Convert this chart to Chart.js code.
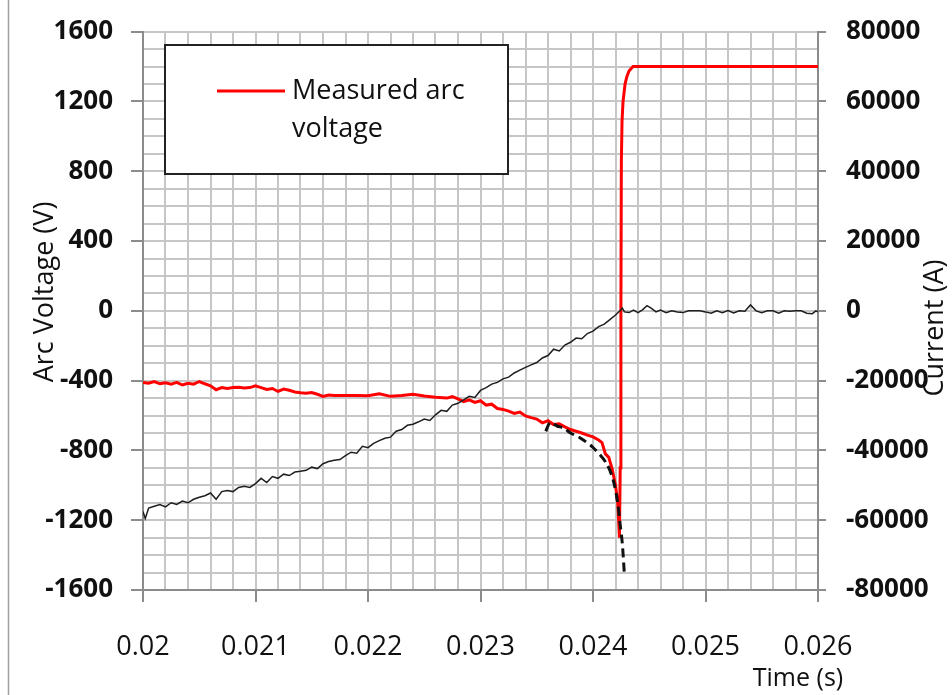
<!DOCTYPE html>
<html>
<head>
<meta charset="utf-8">
<script src="https://cdn.jsdelivr.net/npm/chart.js@4.4.1/dist/chart.umd.min.js"></script>
<style>
  html, body { margin: 0; padding: 0; background: #fff; }
  #wrap { width: 952px; height: 695px; position: relative; }
</style>
</head>
<body>
<div id="wrap"><canvas id="chart" width="952" height="695"></canvas></div>
<script>
// measured arc voltage (V) vs time (s)
const timeVoltage = [
  0.02000, 0.02005, 0.02010, 0.02015, 0.02020, 0.02025, 0.02030, 0.02035, 0.02040, 0.02045,
  0.02050, 0.02055, 0.02060, 0.02065, 0.02070, 0.02075, 0.02080, 0.02085, 0.02090, 0.02095,
  0.02100, 0.02105, 0.02110, 0.02115, 0.02120, 0.02125, 0.02130, 0.02135, 0.02140, 0.02145,
  0.02150, 0.02155, 0.02160, 0.02165, 0.02170, 0.02180, 0.02190, 0.02200, 0.02210, 0.02220,
  0.02230, 0.02240, 0.02250, 0.02260, 0.02270, 0.02275, 0.02280, 0.02285, 0.02290, 0.02295,
  0.02300, 0.02305, 0.02310, 0.02315, 0.02320, 0.02325, 0.02330, 0.02335, 0.02340, 0.02345,
  0.02350, 0.02355, 0.02360, 0.02365, 0.02370, 0.02375, 0.02380, 0.02385, 0.02390, 0.02395,
  0.02400, 0.02405, 0.02408, 0.02411, 0.02414, 0.02417, 0.02420, 0.02422, 0.024235, 0.024242,
  0.024248, 0.024252, 0.024258, 0.024267, 0.024285, 0.02430, 0.02432, 0.024356, 0.02600
];
const arcVoltage = [
  -410, -415, -405, -418, -412, -420, -410, -425, -415, -420,
  -405, -418, -430, -452, -440, -445, -440, -438, -442, -440,
  -430, -440, -450, -445, -462, -448, -455, -465, -470, -472,
  -468, -478, -490, -482, -485, -485, -485, -487, -475, -490,
  -485, -478, -488, -495, -500, -492, -505, -520, -510, -525,
  -515, -540, -535, -560, -565, -575, -588, -580, -602, -612,
  -620, -642, -630, -652, -648, -665, -680, -690, -700, -712,
  -722, -740, -755, -820, -840, -905, -1000, -1100, -1300, -900,
  0, 850, 1086, 1200, 1300, 1340, 1375, 1400, 1400
];

// current (A) vs time (s), right axis
const timeCurrent = [
  0.02000, 0.02002, 0.02005, 0.02010, 0.02015, 0.02020, 0.02025, 0.02030, 0.02035, 0.02040,
  0.02045, 0.02050, 0.02055, 0.02060, 0.02065, 0.02070, 0.02075, 0.02080, 0.02085, 0.02090,
  0.02095, 0.02100, 0.02105, 0.02110, 0.02115, 0.02120, 0.02125, 0.02130, 0.02135, 0.02140,
  0.02145, 0.02150, 0.02155, 0.02160, 0.02165, 0.02170, 0.02175, 0.02180, 0.02185, 0.02190,
  0.02195, 0.02200, 0.02205, 0.02210, 0.02215, 0.02220, 0.02225, 0.02230, 0.02235, 0.02240,
  0.02245, 0.02250, 0.02255, 0.02260, 0.02265, 0.02270, 0.02275, 0.02280, 0.02285, 0.02290,
  0.02295, 0.02300, 0.02305, 0.02310, 0.02315, 0.02320, 0.02325, 0.02330, 0.02335, 0.02340,
  0.02345, 0.02350, 0.02355, 0.02360, 0.02365, 0.02370, 0.02375, 0.02380, 0.02385, 0.02390,
  0.02395, 0.02400, 0.02405, 0.02410, 0.02415, 0.02420, 0.02424, 0.02426, 0.02428, 0.02432,
  0.02436, 0.02440, 0.02444, 0.02448, 0.02452, 0.02456, 0.02460, 0.02465, 0.02470, 0.02475,
  0.02480, 0.02485, 0.02490, 0.02495, 0.02500, 0.02505, 0.02510, 0.02515, 0.02520, 0.02525,
  0.02530, 0.02535, 0.02540, 0.02545, 0.02550, 0.02555, 0.02560, 0.02565, 0.02570, 0.02575,
  0.02580, 0.02585, 0.02590, 0.02595, 0.02598, 0.02600
];
const current = [
  -57500, -59500, -56500, -56000, -55500, -56200, -55000, -55500, -54500, -55000,
  -54000, -53400, -53000, -52200, -54000, -51800, -51500, -51800, -50600, -50300,
  -50600, -49500, -48000, -49200, -47500, -48000, -46800, -47200, -46200, -46000,
  -45700, -44800, -45200, -43800, -43200, -42800, -42600, -41500, -40500, -40800,
  -38800, -39200, -38000, -37200, -36500, -36200, -34500, -34000, -32800, -32500,
  -31800, -31000, -31400, -29800, -28500, -28800, -27000, -26500, -25500, -24500,
  -24800, -22800, -22000, -21000, -20500, -19500, -19000, -17800, -17000, -16200,
  -15500, -14800, -13500, -12800, -11000, -11500, -9800, -9000, -7800, -8000,
  -6500, -5800, -4500, -3800, -2500, -1200, 0, 800, -300, -500,
  200, -500, 300, 1500, 700, -300, 200, -500, 0, -300,
  -500, 0, 0, 0, -300, -700, 0, -500, 100, -600,
  0, -100, 1700, 0, -500, 0, 0, -700, 0, -100,
  0, 0, -700, -800, 0, -300
];

// dashed black curve (V), left axis
const timeCalc = [0.02358, 0.02362, 0.02368, 0.02374, 0.02380, 0.02388, 0.02400, 0.02412, 0.02418, 0.02422, 0.02424, 0.02426, 0.02428];
const calcVoltage = [-690, -640, -660, -672, -700, -726, -783, -874, -971, -1103, -1217, -1330, -1520];

const voltTicks = [-1600, -1200, -800, -400, 0, 400, 800, 1200, 1600];
const legendLines = ["Measured arc", "voltage"];

const toPoints = (xs, ys) => xs.map((x, i) => ({ x, y: ys[i] }));

const isMajorTime = v => Math.abs(v * 1000 - Math.round(v * 1000)) < 1e-6;
const isMajorVolt = v => voltTicks.includes(Math.round(v));

const tickFont = { family: "Open Sans", size: 26, weight: "700", lineHeight: 0.9 };
const gridColor = "#c6c6c6";
const axisColor = "#8c8c8c";

// legend box, axis titles and outer frame
const decorations = {
  id: "decorations",
  afterDraw(chart) {
    const ctx = chart.ctx;
    ctx.save();

    // outer frame line on the left
    ctx.strokeStyle = "#a0a0a0";
    ctx.lineWidth = 1.5;
    ctx.beginPath();
    ctx.moveTo(8.5, 0);
    ctx.lineTo(8.5, 695);
    ctx.stroke();

    // legend
    const red = chart.data.datasets[2];
    ctx.fillStyle = "#fff";
    ctx.fillRect(165, 45, 343, 129);
    ctx.strokeStyle = "#222";
    ctx.lineWidth = 2;
    ctx.strokeRect(165, 45, 343, 129);
    ctx.strokeStyle = red.borderColor;
    ctx.lineWidth = 3;
    ctx.beginPath();
    ctx.moveTo(217, 91);
    ctx.lineTo(285, 91);
    ctx.stroke();
    ctx.fillStyle = "#111";
    ctx.font = "27px 'Open Sans'";
    ctx.textBaseline = "middle";
    ctx.textAlign = "left";
    ctx.fillText(legendLines[0], 292, 91);
    ctx.fillText(legendLines[1], 292, 129);

    // axis titles
    ctx.font = "25px 'Open Sans'";
    ctx.textAlign = "center";
    ctx.fillText("Time (s)", 798, 679);

    ctx.font = "27px 'Open Sans'";
    ctx.save();
    ctx.translate(45, 292);
    ctx.rotate(-Math.PI / 2);
    ctx.fillText("Arc Voltage (V)", 0, 0);
    ctx.restore();

    ctx.save();
    ctx.translate(935, 328);
    ctx.rotate(-Math.PI / 2);
    ctx.fillText("Current (A)", 0, 0);
    ctx.restore();

    ctx.restore();
  }
};

const bgPlugin = {
  id: "bg",
  beforeDraw(chart) {
    const ctx = chart.ctx;
    ctx.save();
    ctx.fillStyle = "#fff";
    ctx.fillRect(0, 0, chart.width, chart.height);
    ctx.restore();
  }
};

new Chart(document.getElementById("chart").getContext("2d"), {
  type: "line",
  data: {
    datasets: [
      {
        label: "Calculated",
        data: toPoints(timeCalc, calcVoltage),
        yAxisID: "y",
        borderColor: "#111",
        borderWidth: 3,
        borderDash: [9, 5],
        pointRadius: 0,
        tension: 0.3,
        fill: false
      },
      {
        label: "Current",
        data: toPoints(timeCurrent, current),
        yAxisID: "y1",
        borderColor: "#1e1e1e",
        borderWidth: 1.5,
        pointRadius: 0,
        tension: 0,
        fill: false
      },
      {
        label: "Measured arc voltage",
        data: toPoints(timeVoltage, arcVoltage),
        yAxisID: "y",
        borderColor: "#ff0000",
        borderWidth: 3,
        pointRadius: 0,
        tension: 0,
        fill: false
      }
    ]
  },
  options: {
    responsive: false,
    animation: false,
    layout: { padding: { top: 23, left: 0, right: 0, bottom: 0 } },
    plugins: {
      legend: { display: false },
      tooltip: { enabled: false }
    },
    scales: {
      x: {
        type: "linear",
        min: 0.02,
        max: 0.026,
        afterFit: s => { s.height = 105; },
        ticks: {
          stepSize: 0.0002,
          autoSkip: false,
          maxRotation: 0,
          padding: 29,
          color: "#111",
          font: { family: "Open Sans", size: 27, weight: "400" },
          callback: v => isMajorTime(v) ? String(Number(v.toFixed(3))) : ""
        },
        grid: {
          color: gridColor,
          lineWidth: 2,
          tickLength: 12,
          tickColor: c => isMajorTime(c.tick.value) ? axisColor : "rgba(0,0,0,0)"
        },
        border: { color: axisColor, width: 2 }
      },
      y: {
        type: "linear",
        position: "left",
        min: -1600,
        max: 1600,
        afterFit: s => { s.width = 143; },
        ticks: {
          stepSize: 100,
          autoSkip: false,
          padding: 18,
          color: "#111",
          font: tickFont,
          callback: v => isMajorVolt(v) ? String(v) : ""
        },
        grid: {
          color: gridColor,
          lineWidth: 2,
          tickLength: 12,
          tickColor: c => isMajorVolt(c.tick.value) ? axisColor : "rgba(0,0,0,0)"
        },
        border: { color: axisColor, width: 2 }
      },
      y1: {
        type: "linear",
        position: "right",
        min: -80000,
        max: 80000,
        afterFit: s => { s.width = 134; },
        ticks: {
          stepSize: 20000,
          autoSkip: false,
          padding: 20,
          color: "#111",
          font: tickFont,
          callback: v => String(v)
        },
        grid: {
          drawOnChartArea: false,
          tickLength: 8,
          tickColor: axisColor,
          lineWidth: 2
        },
        border: { color: axisColor, width: 2 }
      }
    }
  },
  plugins: [bgPlugin, decorations]
});
</script>
</body>
</html>
